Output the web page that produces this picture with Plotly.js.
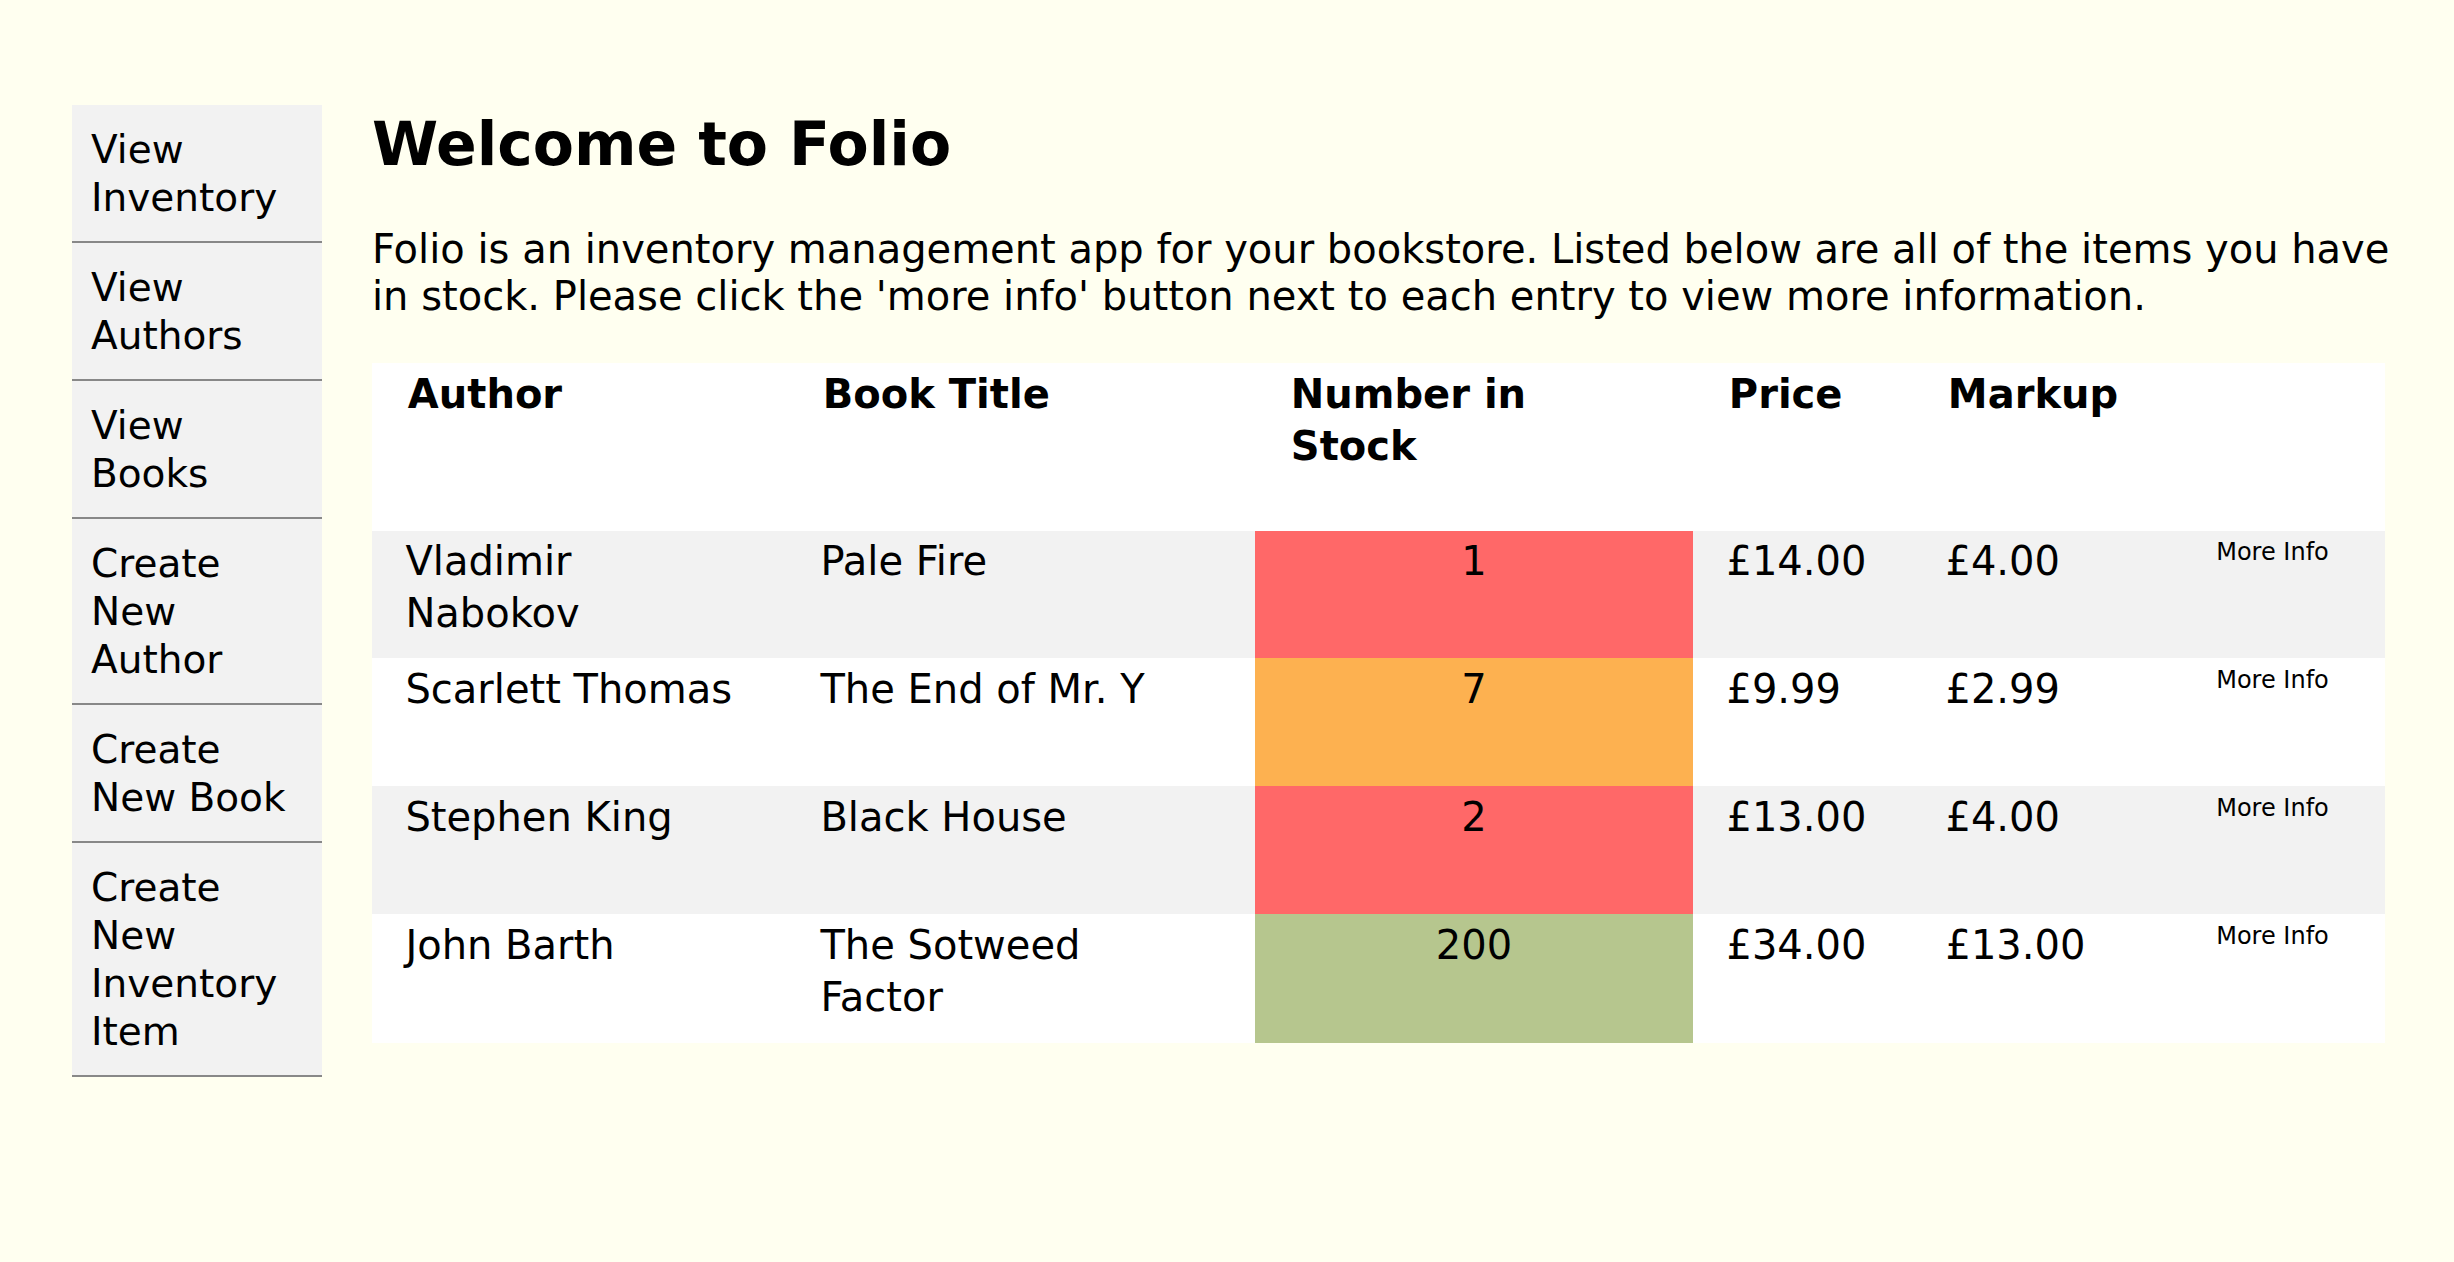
<!DOCTYPE html>
<html>
<head>
<meta charset="utf-8">
<script src="https://cdn.plot.ly/plotly-3.0.1.min.js"></script>
<style>
  body { margin:0; background:#fffff0; font-family:"DejaVu Sans", sans-serif; width:2454px; height:1262px; overflow:hidden; }
  #side { position:absolute; left:72px; top:105px; width:250px; }
  #side div { background:#f2f2f2; border-bottom:2px solid #888; padding:21px 10px 19px 19px; font-size:39px; line-height:48px; color:#000; }
  h1 { position:absolute; left:372px; top:109px; margin:0; font-size:60px; font-weight:bold; }
  p { position:absolute; left:372px; top:226px; width:2030px; margin:0; font-size:40px; line-height:47px; }
  #tbl { position:absolute; left:372px; top:363px; width:2013px; height:820px; }
</style>
</head>
<body>
<div id="side">
  <div>View<br>Inventory</div>
  <div>View<br>Authors</div>
  <div>View<br>Books</div>
  <div>Create<br>New<br>Author</div>
  <div>Create<br>New Book</div>
  <div>Create<br>New<br>Inventory<br>Item</div>
</div>
<h1>Welcome to Folio</h1>
<p>Folio is an inventory management app for your bookstore. Listed below are all of the items you have in stock. Please click the 'more info' button next to each entry to view more information.</p>
<div id="tbl"></div>
<script>
const headers = ['Author', 'Book Title', 'Number in<br>Stock', 'Price', 'Markup', ''];
const authors = ['Vladimir<br>Nabokov', 'Scarlett Thomas', 'Stephen King', 'John Barth'];
const titles = ['Pale Fire', 'The End of Mr. Y', 'Black House', 'The Sotweed<br>Factor'];
const stock = [1, 7, 2, 200];
const prices = ['£14.00', '£9.99', '£13.00', '£34.00'];
const markups = ['£4.00', '£2.99', '£4.00', '£13.00'];
const buttons = ['More Info', 'More Info', 'More Info', 'More Info'];

// rows whose text wraps onto two lines
const tall = [true, false, false, true];
const sp = '\u00a0\u00a0';
const pad = s => '<br>' + sp + String(s).split('<br>').join('<br>' + sp);
const ctr = s => '<br>' + s;
const btn = (s, i) => (tall[i] ? '<br><br>' : '<br>') + s;

const rowFill = stock.map((_, i) => i % 2 === 0 ? '#f2f2f2' : '#ffffff');
const stockFill = stock.map(n => n < 5 ? '#ff6868' : (n < 20 ? '#fdb150' : '#b6c68e'));
const fills = [rowFill, rowFill, stockFill, rowFill, rowFill, rowFill];

const data = [{
  type: 'table',
  columnwidth: [415, 468, 438, 219, 248, 225],
  header: {
    values: headers.map(h => '<b>' + pad(h) + '</b>'),
    align: 'left',
    height: 167,
    fill: {color: '#ffffff'},
    line: {color: '#ffffff', width: 1},
    font: {family: 'DejaVu Sans', size: 40, color: '#000'}
  },
  cells: {
    values: [authors.map(pad), titles.map(pad), stock.map(ctr), prices.map(pad), markups.map(pad), buttons.map(btn)],
    align: ['left', 'left', 'center', 'left', 'left', 'center'],
    height: 128,
    fill: {color: fills},
    line: {color: fills, width: 1},
    font: {family: 'DejaVu Sans', size: [40, 40, 40, 40, 40, 24], color: '#000'}
  }
}];

const layout = {
  width: 2013, height: 820,
  margin: {l: 0, r: 0, t: 0, b: 0},
  paper_bgcolor: 'rgba(0,0,0,0)'
};
Plotly.newPlot('tbl', data, layout, {displayModeBar: false});
</script>
</body>
</html>
